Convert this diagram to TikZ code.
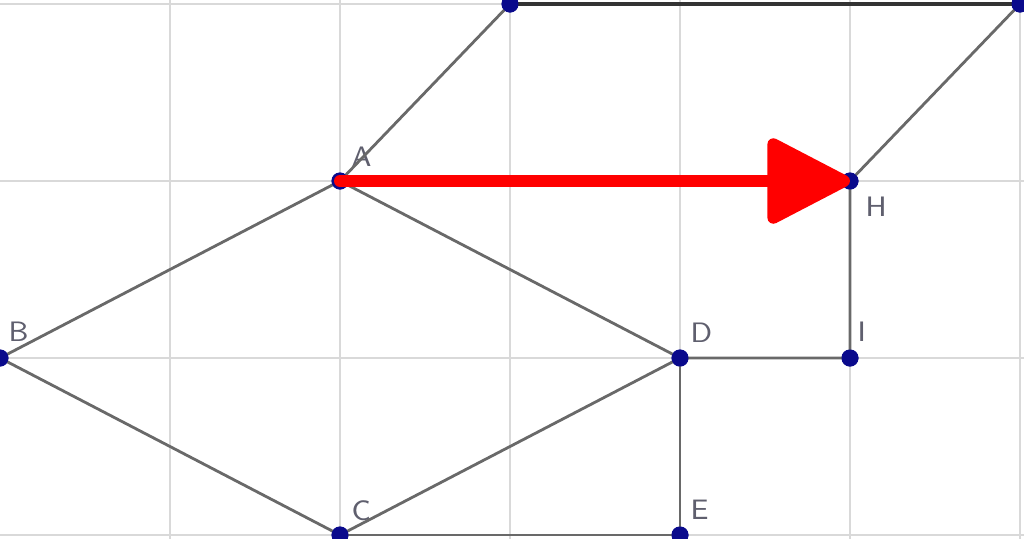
\documentclass[tikz,border=0pt]{standalone}
\usetikzlibrary{arrows.meta}
\definecolor{ptblue}{RGB}{10,10,140}
\definecolor{segcol}{RGB}{105,105,105}
\definecolor{lblcol}{RGB}{95,95,110}

\begin{document}
\begin{tikzpicture}[x=1.7cm,y=1.77cm,
  pt/.style={circle,fill=ptblue,inner sep=0pt,minimum size=0.17cm},
  lbl/.style={text=lblcol,font=\fontsize{8}{9}\sffamily,inner sep=1pt},
  seg/.style={color=segcol,line width=0.8pt}]
  \useasboundingbox (0,-0.017) rectangle (6.0235,3.0226);
  \clip (0,-0.017) rectangle (6.0235,3.0226);
  % grid
  \foreach \i in {1,...,6} \draw[color=gray!30,line width=0.4pt] (\i,-0.1) -- (\i,3.1);
  \foreach \j in {0,...,3} \draw[color=gray!30,line width=0.4pt] (-0.1,\j) -- (6.1,\j);
  % points
  \node[pt,label={[lbl,label distance=1pt]55:A}] (A) at (2,2) {};
  \node[pt,label={[lbl,label distance=1pt]70:B}] (B) at (0,1) {};
  \node[pt,label={[lbl,label distance=1pt]55:C}] (C) at (2,0) {};
  \node[pt,label={[lbl,label distance=1pt]60:D}] (D) at (4,1) {};
  \node[pt,label={[lbl,label distance=1pt]60:E}] (E) at (4,0) {};
  \node[pt,label={[lbl,label distance=2pt]-45:H}] (H) at (5,2) {};
  \node[pt,label={[lbl,label distance=1pt]75:I}] (I) at (5,1) {};
  \node[pt] (F) at (3,3) {};
  \node[pt] (G) at (6,3) {};
  % segments
  \draw[seg] (A.center) -- (B.center) -- (C.center) -- (D.center) -- (A.center);
  \draw[seg] (D.center) -- (I.center) -- (H.center) -- (G.center);
  \draw[seg] (D.center) -- (E.center) -- (C.center);
  \draw[seg] (A.center) -- (F.center);
  \draw[color=gray!40!black,line width=1.4pt] (F.center) -- (G.center);
  % redraw points over segments
  \foreach \p in {A,B,C,D,E,H,I,F,G} \fill[ptblue] (\p) circle (0.085cm);
  % translation arrow
  \draw[red,line width=3.4pt,line cap=round,-{Triangle[length=0.9cm,width=0.9cm,round]}] (A.center) -- (H.center);
\end{tikzpicture}
\end{document}
